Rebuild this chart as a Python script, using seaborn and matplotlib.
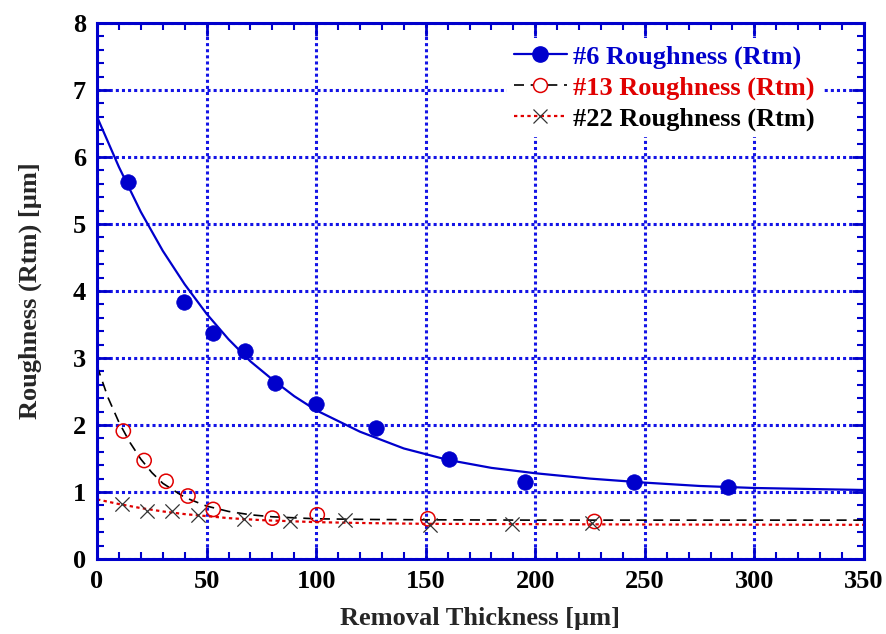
import numpy as np
import pandas as pd
import matplotlib
matplotlib.use("Agg")
import matplotlib.pyplot as plt
from matplotlib.lines import Line2D
from matplotlib.ticker import MultipleLocator
import seaborn as sns

# ---- data ----
s6_x = [14, 39.5, 53, 67.5, 81, 100, 127.5, 160.5, 195.5, 245, 288]
s6_y = [5.63, 3.83, 3.38, 3.11, 2.62, 2.32, 1.95, 1.49, 1.15, 1.15, 1.08]

s13_x = [12, 21.5, 31.5, 41.5, 53, 80, 100.5, 151, 227]
s13_y = [1.91, 1.47, 1.16, 0.94, 0.74, 0.61, 0.66, 0.60, 0.56]

s22_x = [11.5, 23, 34, 46, 67, 88, 113, 152, 189.5, 226]
s22_y = [0.82, 0.72, 0.71, 0.66, 0.59, 0.56, 0.58, 0.50, 0.52, 0.53]

# fitted curves
fit6_x = [0, 10, 20, 30, 40, 50, 60, 70, 80, 90, 100, 120, 140, 160, 180, 200, 225, 250, 275, 300, 325, 350]
fit6_y = [6.60, 5.85, 5.18, 4.60, 4.10, 3.66, 3.28, 2.95, 2.68, 2.43, 2.22, 1.90, 1.65, 1.48, 1.36, 1.28, 1.20, 1.14, 1.09, 1.06, 1.045, 1.03]

fit13_x = [0, 5, 10, 15, 20, 25, 30, 40, 50, 60, 70, 80, 100, 125, 150, 200, 250, 350]
fit13_y = [2.88, 2.41, 2.04, 1.74, 1.49, 1.29, 1.13, 0.92, 0.79, 0.71, 0.66, 0.63, 0.60, 0.59, 0.585, 0.58, 0.58, 0.58]

fit22_x = [0, 10, 20, 30, 40, 50, 60, 75, 100, 125, 150, 200, 250, 350]
fit22_y = [0.89, 0.82, 0.76, 0.71, 0.67, 0.64, 0.61, 0.58, 0.55, 0.535, 0.525, 0.52, 0.515, 0.51]

labels = ["#6 Roughness (Rtm)", "#13 Roughness (Rtm)", "#22 Roughness (Rtm)"]
x_ticks = [0, 50, 100, 150, 200, 250, 300, 350]
y_ticks = [0, 1, 2, 3, 4, 5, 6, 7, 8]

BLUE = "#0000CC"
RED = "#E00000"
GRID = "#1414E6"
XCOL = "#333333"

sns.set_theme(style="white")
plt.rcParams["font.family"] = ["Liberation Serif", "DejaVu Serif"]
plt.rcParams["font.weight"] = "bold"

fig = plt.figure(figsize=(8.87, 6.34), dpi=100)
ax = fig.add_axes([0.1094, 0.1183, 0.8646, 0.8454])

# fitted lines
sns.lineplot(x=fit6_x, y=fit6_y, ax=ax, color=BLUE, lw=1.6, sort=False)
sns.lineplot(x=fit13_x, y=fit13_y, ax=ax, color="black", lw=1.2, sort=False,
             linestyle=(0, (6, 4)))
sns.lineplot(x=fit22_x, y=fit22_y, ax=ax, color=RED, lw=1.6, sort=False,
             linestyle=(0, (1.5, 1.5)))

# data points
sns.scatterplot(x=s6_x, y=s6_y, ax=ax, color=BLUE, s=125, edgecolor=BLUE, linewidth=0.5, zorder=5)
sns.scatterplot(x=s13_x, y=s13_y, ax=ax, facecolor="none", edgecolor=RED, s=105, linewidth=1.1, zorder=5)
sns.scatterplot(x=s22_x, y=s22_y, ax=ax, color=XCOL, marker="x", s=105, linewidth=0.9, zorder=5)

ax.set_xlim(0, 350)
ax.set_ylim(0, 8)
ax.set_xticks(x_ticks)
ax.set_yticks(y_ticks)
ax.xaxis.set_minor_locator(MultipleLocator(10))
ax.yaxis.set_minor_locator(MultipleLocator(0.2))
ax.set_xticklabels([str(v) for v in x_ticks])
ax.set_yticklabels([str(v) for v in y_ticks])

ax.grid(True, which="major", color=GRID, linestyle=(0, (1, 1)), linewidth=2.2)
ax.set_axisbelow(True)

for sp in ax.spines.values():
    sp.set_color(BLUE)
    sp.set_linewidth(2.2)
    sp.set_visible(True)

ax.tick_params(which="both", direction="in", top=True, right=True, bottom=True, left=True,
               color=BLUE)
ax.tick_params(which="major", length=9, width=2, labelsize=19, pad=8)
ax.tick_params(which="minor", length=5, width=1.5)
for lab in ax.get_xticklabels() + ax.get_yticklabels():
    lab.set_fontweight("bold")
    lab.set_color("black")

ax.set_xlabel("Removal Thickness [µm]", fontsize=19, fontweight="bold", labelpad=10)
ax.set_ylabel("Roughness (Rtm) [µm]", fontsize=19, fontweight="bold", labelpad=22)

handles = [
    Line2D([], [], color=BLUE, lw=1.6, marker="o", markersize=11, markerfacecolor=BLUE,
           markeredgecolor=BLUE),
    Line2D([], [], color="black", lw=1.2, linestyle=(0, (6, 4)), marker="o", markersize=10,
           markerfacecolor="white", markeredgecolor=RED, markeredgewidth=1.1),
    Line2D([], [], color=RED, lw=1.6, linestyle=(0, (1.5, 1.5)), marker="x", markersize=10,
           markeredgecolor=XCOL, markeredgewidth=0.9),
]
leg = ax.legend(handles, labels, loc="upper left", bbox_to_anchor=(0.535, 0.972),
                frameon=True, fontsize=19, handlelength=2.0, handletextpad=0.25,
                labelspacing=0.27, borderaxespad=0.0, borderpad=0.25)
leg.get_frame().set_facecolor("white")
leg.get_frame().set_edgecolor("none")
leg.get_frame().set_alpha(1.0)
leg.get_frame().set_boxstyle("square", pad=0.0)
for txt, c in zip(leg.get_texts(), [BLUE, RED, "black"]):
    txt.set_color(c)
    txt.set_fontweight("bold")

fig.savefig("out.png", dpi=100)
